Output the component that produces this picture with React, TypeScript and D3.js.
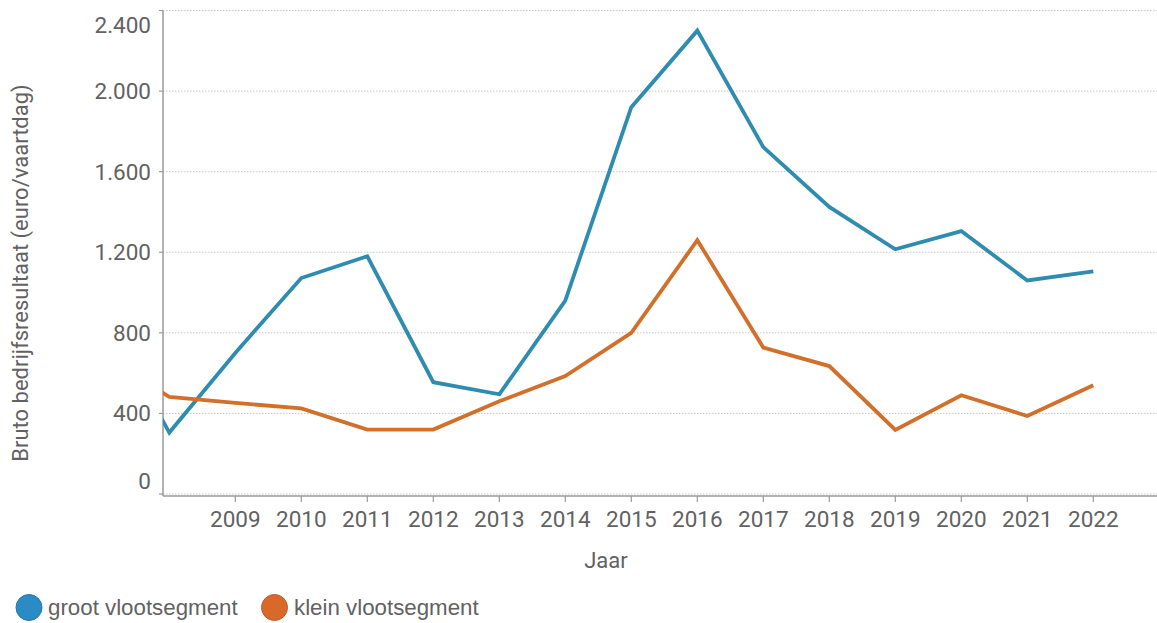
import React from "react";
import * as d3 from "d3";

const years = [2007, 2008, 2009, 2010, 2011, 2012, 2013, 2014, 2015, 2016, 2017, 2018, 2019, 2020, 2021, 2022];
const grootValues = [900, 305, 700, 1072, 1180, 555, 495, 960, 1920, 2300, 1722, 1425, 1215, 1305, 1060, 1105];
const kleinValues = [690, 482, 452, 425, 320, 320, 460, 585, 800, 1260, 727, 635, 318, 490, 387, 540];
const xTickYears = [2009, 2010, 2011, 2012, 2013, 2014, 2015, 2016, 2017, 2018, 2019, 2020, 2021, 2022];
const yTicks = [0, 400, 800, 1200, 1600, 2000, 2400];
const seriesNames = ["groot vlootsegment", "klein vlootsegment"];

const W = 1157;
const H = 623;
const plotLeft = 163;
const plotRight = 1157;
const plotTop = 10.5;
const plotBottom = 494;
const axisY = 496;

const locale = d3.formatLocale({ decimal: ",", thousands: ".", grouping: [3], currency: ["€", ""] });
const fmt = locale.format(",d");

export default function App() {
  const x = d3.scaleLinear().domain([2008, 2022]).range([169.3, 1093.3]);
  const y = d3.scaleLinear().domain([0, 2400]).range([plotBottom, plotTop]);
  const line = d3
    .line<number>()
    .x((_, i) => x(years[i]))
    .y((v) => y(v));

  const blue = "#2f8cb1";
  const orange = "#d2702b";
  const textColor = "#626262";
  const font = "Roboto, 'Liberation Sans', Arial, sans-serif";
  const legendFont = "'Liberation Sans', Arial, sans-serif";

  return (
    <svg
      width={W}
      height={H}
      style={{ position: "absolute", left: 0, top: 0, background: "#fff" }}
    >
      <defs>
        <clipPath id="plotClip">
          <rect x={plotLeft} y={0} width={plotRight - plotLeft} height={axisY} />
        </clipPath>
      </defs>
      {yTicks.map((t) => (
        <line
          key={"g" + t}
          x1={plotLeft}
          x2={plotRight}
          y1={y(t)}
          y2={y(t)}
          stroke="#c8c8c8"
          strokeWidth={1}
          strokeDasharray="1.5,1.5"
        />
      ))}
      <line x1={plotLeft} x2={plotLeft} y1={plotTop} y2={axisY} stroke="#9a9a9a" strokeWidth={1.5} />
      {yTicks.map((t) => (
        <line key={"yt" + t} x1={plotLeft - 4} x2={plotLeft} y1={y(t)} y2={y(t)} stroke="#9a9a9a" strokeWidth={1.2} />
      ))}
      {yTicks.map((t) => {
        let ty = y(t);
        if (ty < 25) ty = 25;
        if (ty > 481) ty = 481;
        return (
          <text
            key={"yl" + t}
            x={151}
            y={ty}
            textAnchor="end"
            dominantBaseline="central"
            fontFamily={font}
            fontSize={22.5}
            fill={textColor}
          >
            {fmt(t)}
          </text>
        );
      })}
      <line x1={plotLeft} x2={plotRight} y1={axisY} y2={axisY} stroke="#9a9a9a" strokeWidth={1.5} />
      {xTickYears.map((yr) => (
        <g key={"xt" + yr}>
          <line x1={x(yr)} x2={x(yr)} y1={axisY} y2={axisY + 6} stroke="#9a9a9a" strokeWidth={1.2} />
          <text
            x={x(yr)}
            y={527}
            textAnchor="middle"
            fontFamily={font}
            fontSize={22.5}
            fill={textColor}
          >
            {yr}
          </text>
        </g>
      ))}
      <text x={606} y={568} textAnchor="middle" fontFamily={font} fontSize={22} fill={textColor}>
        Jaar
      </text>
      <text
        transform={`translate(28, 273) rotate(-90)`}
        textAnchor="middle"
        fontFamily={font}
        fontSize={22}
        fill={textColor}
      >
        Bruto bedrijfsresultaat (euro/vaartdag)
      </text>
      <g clipPath="url(#plotClip)">
        <path d={line(grootValues) || ""} fill="none" stroke={blue} strokeWidth={3.8} strokeLinejoin="miter" />
        <path d={line(kleinValues) || ""} fill="none" stroke={orange} strokeWidth={3.8} strokeLinejoin="miter" />
      </g>
      <circle cx={29} cy={607.5} r={13} fill="#2b8bc6" stroke="#2579ad" strokeWidth={1} />
      <text x={48} y={615} fontFamily={legendFont} fontSize={22.3} fill={textColor}>
        {seriesNames[0]}
      </text>
      <circle cx={274.5} cy={607.5} r={13} fill="#d9692a" stroke="#bf5a22" strokeWidth={1} />
      <text x={294} y={615} fontFamily={legendFont} fontSize={22.3} fill={textColor}>
        {seriesNames[1]}
      </text>
    </svg>
  );
}
